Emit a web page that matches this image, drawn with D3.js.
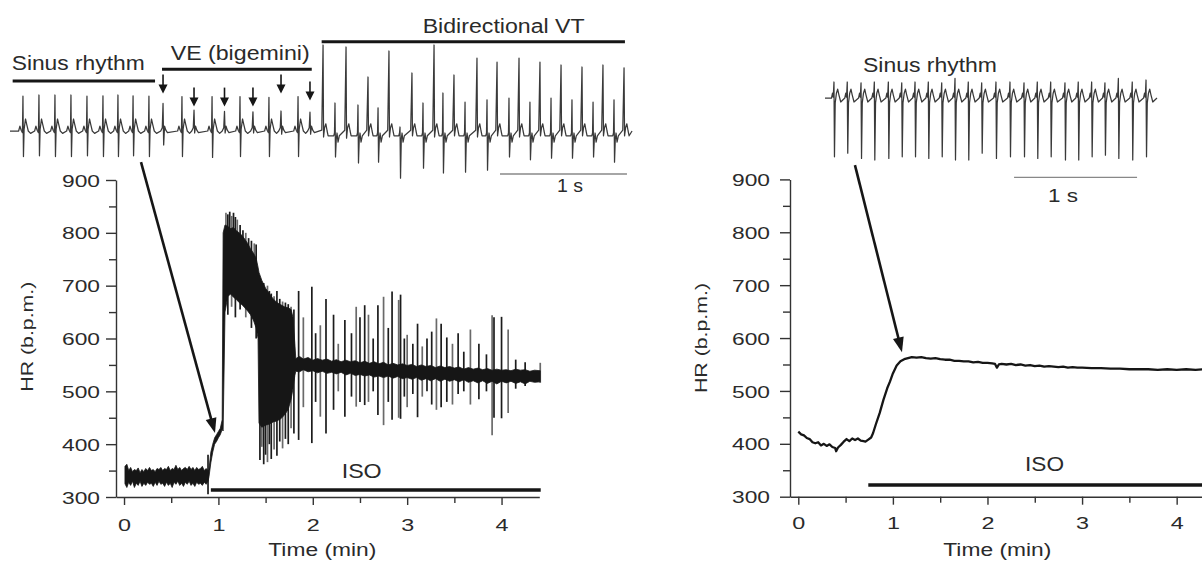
<!DOCTYPE html>
<html><head><meta charset="utf-8">
<script src="https://cdn.jsdelivr.net/npm/d3@7"></script>
<style>
html,body{margin:0;padding:0;background:#fff;}
svg{display:block;}
text{font-family:"Liberation Sans",Arial,Helvetica,sans-serif;fill:#2a2a2a;}
</style></head><body>
<svg id="c" width="1202" height="561"></svg>
<script>
// ---------------- DATA ----------------
const yTicksMajor = [300,400,500,600,700,800,900];
const yTicksMinor = [350,450,550,650,750,850];
const xTicksMajor = [0,1,2,3,4];
const xTicksMinor = [0.5,1.5,2.5,3.5];

// Left panel HR (b.p.m.) envelope of the dense trace: time (min), low, high
const hrT = [0.01,0.03,0.05,0.07,0.09,0.11,0.13,0.15,0.17,0.19,0.21,0.23,0.25,0.27,0.29,0.31,0.33,0.35,0.37,0.39,0.41,0.43,0.45,0.47,0.49,0.51,0.53,0.55,0.57,0.59,0.61,0.63,0.65,0.67,0.69,0.71,0.73,0.75,0.77,0.79,0.81,0.83,0.85,0.87,0.89,
  0.90,0.92,0.94,0.96,0.98,1.00,1.02,1.04,1.05,1.07,1.10,1.13,1.16,1.19,1.22,1.25,1.28,1.31,1.34,1.37,1.40,1.42,1.43,1.46,1.50,1.54,1.58,1.62,1.66,1.70,1.74,1.77,1.79,1.81,1.82,
  1.86,1.90,1.95,2.00,2.05,2.10,2.15,2.20,2.25,2.30,2.35,2.40,2.45,2.50,2.55,2.60,2.65,2.70,2.75,2.80,2.85,2.90,2.95,3.00,3.05,3.10,3.15,3.20,3.25,3.30,3.35,3.40,3.45,3.50,3.55,3.60,3.65,3.70,3.75,3.80,3.85,3.90,3.95,4.00,4.05,4.10,4.15,4.20,4.25,4.30,4.35,4.41];
const hrLo = [325,318,328,322,330,318,326,322,330,320,326,322,328,324,326,320,328,322,330,324,326,320,328,322,326,318,328,324,330,322,326,320,328,324,330,322,326,320,328,324,326,322,328,324,330,
  338,365,385,400,405,412,418,428,425,650,680,684,678,674,668,664,658,652,645,635,620,600,440,432,436,438,442,444,448,455,466,485,505,530,538,
  537,541,537,539,535,538,534,536,533,536,531,534,530,532,529,531,527,529,526,529,525,528,524,526,523,526,521,524,520,524,519,523,519,522,518,522,517,520,516,520,515,519,514,519,516,519,515,518,514,519,517,518];
const hrHi = [358,362,350,356,348,352,350,355,346,352,348,354,350,356,350,352,348,354,352,356,350,354,352,358,350,354,352,360,352,356,350,354,356,352,358,352,356,350,356,352,354,358,350,354,350,
  352,385,400,412,418,424,430,446,800,815,812,808,810,804,800,795,788,780,770,762,752,735,725,710,695,685,675,668,664,660,658,655,640,590,562,
  566,561,564,559,562,559,561,557,560,556,559,556,558,554,557,553,556,552,555,550,553,550,552,549,551,547,550,547,549,545,548,545,547,544,546,542,545,542,544,541,543,540,542,540,541,539,542,540,541,538,540,539];

// Left panel isolated excursions (time, low, high)
const spikeT  = [0.89,1.08,1.10,1.12,1.14,1.16,1.18,1.20,1.23,1.26,1.29,1.32,1.35,1.38,1.40,1.44,1.46,1.48,1.50,1.52,1.54,1.56,1.59,1.62,1.65,1.68,1.71,1.74,1.77,1.80,
  1.85,1.90,1.99,2.03,2.08,2.14,2.22,2.27,2.34,2.41,2.46,2.50,2.55,2.59,2.64,2.69,2.75,2.80,2.84,2.91,2.93,2.97,3.00,3.06,3.11,3.16,3.21,3.26,3.31,3.36,3.42,3.48,3.54,3.60,3.67,3.76,3.84,3.90,3.92,4.00,4.07,4.15,4.25,4.41];
const spikeLo = [305,700,645,690,660,700,640,690,655,690,640,680,620,650,600,370,395,362,380,366,400,372,390,378,405,392,410,400,430,420,
  408,470,402,480,452,420,465,500,452,490,471,480,474,480,500,455,436,480,446,450,448,490,470,495,451,490,500,475,465,470,480,475,495,500,475,485,500,417,450,449,459,505,510,516];
const spikeHi = [380,838,835,840,832,838,830,825,815,805,800,790,785,780,778,700,690,705,690,700,690,685,680,690,675,670,668,665,660,655,
  690,640,698,610,625,675,645,590,635,610,660,640,663,645,600,663,679,620,689,673,683,600,607,590,628,585,600,613,638,628,602,590,610,575,617,590,570,644,640,641,617,560,555,554];

// Right panel HR trace: time (min), b.p.m.
const rT = [0.00,0.03,0.06,0.09,0.12,0.15,0.18,0.21,0.24,0.27,0.30,0.33,0.36,0.39,0.40,0.42,0.45,0.48,0.51,0.54,0.57,0.60,0.63,0.66,0.69,0.71,0.74,0.77,0.79,0.82,0.86,0.90,0.94,0.97,1.00,1.04,1.08,1.12,1.16,1.20,1.25,1.30,1.35,1.40,1.45,1.50,1.55,1.60,1.65,1.70,1.75,1.80,1.85,1.90,1.95,2.00,2.05,2.08,2.10,2.12,2.15,2.20,2.25,2.30,2.35,2.40,2.45,2.50,2.55,2.60,2.65,2.70,2.75,2.80,2.85,2.90,2.95,3.00,3.10,3.20,3.30,3.40,3.50,3.60,3.70,3.80,3.90,4.00,4.10,4.20,4.30];
const rV = [423,418,416,411,409,403,401,403,397,400,396,399,394,392,386,393,398,404,409,405,410,407,410,406,405,404,408,412,420,437,458,483,505,518,533,548,556,560,562,564,563,564,562,561,562,560,559,559,557,557,556,556,554,555,553,553,552,551,544,550,551,550,551,549,550,548,549,547,548,546,547,546,545,546,544,545,544,544,543,543,542,542,541,541,541,540,541,540,541,540,541];

// ISO application (min)
const isoLeft = [0.92, 4.415];
const isoRight = [0.74, 4.6];

// Left ECG: beat times (s), type (N sinus, V ventricular ectopic, T/B bidirectional VT), R and S amplitudes
const ecgLTimes = [0.102,0.228,0.354,0.480,0.606,0.732,0.850,0.969,1.094,
  1.205,1.354,1.449,1.591,1.689,1.811,1.913,2.039,2.134,2.268,2.362,
  2.465,2.559,2.646,2.740,2.819,2.898,2.984,3.071,3.165,3.252,3.339,3.409,3.496,3.583,3.677,3.756,3.835,3.929,4.008,4.094,4.173,4.260,4.339,4.425,4.504,4.591,4.669,4.756,4.835];
const ecgLTypes = ("NNNNNNNNN" + "VNVNVNVNVNV" + "TBTBTBTBTBTBTBTBTBTBTBTBTBTBT").split("");
const ecgLR = [0.87,0.9,0.9,0.9,0.87,0.88,0.9,0.88,0.87,
  0.69,0.86,0.52,0.86,0.49,0.86,0.48,0.84,0.5,0.86,0.47,
  2.15,0.7,2.1,0.65,1.35,0.58,2.0,0.1,1.45,0.7,2.15,0.95,1.4,0.72,1.82,0.78,1.72,0.82,1.82,0.72,1.72,0.82,1.65,0.78,1.6,0.72,1.65,0.78,1.58];
const ecgLS = [-0.64,-0.62,-0.64,-0.64,-0.62,-0.64,-0.64,-0.62,-0.64,
  -0.35,-0.64,-0.05,-0.66,-0.05,-0.64,-0.05,-0.64,-0.08,-0.64,-0.08,
  -0.15,-0.65,-0.18,-0.8,-0.12,-0.78,-0.15,-1.18,-0.12,-0.93,-0.15,-1.05,-0.12,-1.03,-0.15,-0.98,-0.12,-0.65,-0.15,-0.72,-0.12,-0.68,-0.12,-0.68,-0.12,-0.65,-0.12,-0.78,-0.12];
const ecgLEnd = 4.898;
const veArrowTip = [0.94,0.61,0.61,0.61,0.94,0.76]; // ECG units
const rhythmSegments = [["Sinus rhythm",0.021,1.142],["VE (bigemini)",1.197,2.376],["Bidirectional VT",2.454,4.842]];

// Right ECG
const ecgRTimes = [0.073,0.181,0.293,0.401,0.515,0.624,0.732,0.840,0.949,1.057,1.165,1.274,1.390,1.504,1.618,1.726,1.835,1.951,2.059,2.168,2.276,2.385,2.498,2.610];
const ecgRR = [0.4,0.4,0.38,0.4,0.4,0.38,0.4,0.4,0.38,0.49,0.4,0.38,0.4,0.4,0.38,0.4,0.4,0.38,0.4,0.4,0.38,0.49,0.4,0.45];
const ecgRS = [-1.47,-1.38,-1.51,-1.55,-1.51,-1.47,-1.47,-1.51,-1.47,-1.55,-1.55,-1.38,-1.51,-1.47,-1.47,-1.51,-1.47,-1.55,-1.55,-1.47,-1.43,-1.51,-1.55,-1.47];
const ecgREnd = 2.699;

// Arrows from ECG to HR trace: [t0, v0, t1, v1]
const arrowLeft = [0.18, 934, 0.964, 421];
const arrowRight = [0.599, 927, 1.096, 573];

// ---------------- DRAWING ----------------
const svg = d3.select("#c");
svg.append("rect").attr("width",1202).attr("height",561).attr("fill","#fff");
const INK = "#161616", AX = "#333";

const xL = d3.scaleLinear().domain([-0.085, 4.4]).range([116, 539.3]);
const yL = d3.scaleLinear().domain([300, 900]).range([497, 180]);
const xR = d3.scaleLinear().domain([-0.0877, 4.4]).range([790, 1214.5]);
const yR = d3.scaleLinear().domain([300, 900]).range([496.7, 179.4]);
const eLX = d3.scaleLinear().domain([0,1]).range([10, 137]);
const eLY = d3.scaleLinear().domain([0,1]).range([131, 91]);
const eRX = d3.scaleLinear().domain([0,1]).range([825, 948]);
const eRY = d3.scaleLinear().domain([0,1]).range([98, 58]);

function txt(g, s, x, y, size, len, opts={}) {
  const t = g.append("text").attr("x", x).attr("y", y).attr("font-size", size).text(s);
  if (len) t.attr("textLength", len).attr("lengthAdjust", "spacingAndGlyphs");
  if (opts.anchor) t.attr("text-anchor", opts.anchor);
  if (opts.rotate) t.attr("transform", `rotate(-90 ${x} ${y})`);
  return t;
}

function drawAxes(x, y, o) {
  const g = svg.append("g");
  const x0 = x.range()[0], y0 = y(300);
  const ya = g.append("g").attr("transform", `translate(${x0},0)`)
    .call(d3.axisLeft(y).tickValues(yTicksMajor).tickSize(10).tickSizeOuter(0).tickPadding(o.yPad).tickFormat(d3.format("d")));
  ya.attr("font-size", null).attr("font-family", null);
  ya.selectAll("text").attr("font-size", 17).attr("dy", "0.36em")
    .attr("textLength", 38).attr("lengthAdjust", "spacingAndGlyphs").attr("fill", "#2a2a2a");
  const ym = g.append("g").attr("transform", `translate(${x0},0)`)
    .call(d3.axisLeft(y).tickValues(yTicksMinor).tickSize(7).tickFormat(""));
  ym.select(".domain").remove();
  const xa = g.append("g").attr("transform", `translate(0,${y0})`)
    .call(d3.axisBottom(x).tickValues(xTicksMajor).tickSize(8).tickSizeOuter(0).tickFormat(d3.format("d")));
  xa.attr("font-size", null).attr("font-family", null);
  xa.selectAll("text").attr("font-size", 17).attr("y", o.xLabY).attr("dy", "0.71em")
    .attr("textLength", 13).attr("lengthAdjust", "spacingAndGlyphs").attr("fill", "#2a2a2a");
  const xm = g.append("g").attr("transform", `translate(0,${y0})`)
    .call(d3.axisBottom(x).tickValues(xTicksMinor).tickSize(6).tickFormat(""));
  xm.select(".domain").remove();
  g.selectAll(".domain, .tick line").attr("stroke", AX).attr("stroke-width", 1.4);
  return g;
}

function arrow(g, x1, y1, x2, y2, hl, hw, sw) {
  const a = Math.atan2(y2 - y1, x2 - x1), c = Math.cos(a), s = Math.sin(a);
  const bx = x2 - hl * c, by = y2 - hl * s;
  g.append("line").attr("x1", x1).attr("y1", y1).attr("x2", bx + c).attr("y2", by + s)
    .attr("stroke", INK).attr("stroke-width", sw);
  g.append("path").attr("d", `M${x2},${y2}L${bx - s*hw/2},${by + c*hw/2}L${bx + s*hw/2},${by - c*hw/2}Z`).attr("fill", INK);
}

const morph = {
  N: (r, s) => [[-0.034,0],[-0.024,0.12],[-0.014,0.02],[-0.004,-0.04],[0,r],[0.004,s],[0.009,0.04],[0.02,0.3],[0.03,0.16],[0.042,0.0],[0.06,-0.06]],
  V: (r, s) => [[-0.018,0],[-0.006,0.08],[0,r],[0.005,s],[0.012,0.12],[0.022,0.02],[0.035,-0.04]],
  T: (r, s) => [[-0.01,0.02],[0,r],[0.004,s],[0.012,0.08],[0.022,0.18],[0.032,0.0],[0.04,-0.12]],
  B: (r, s) => [[-0.01,-0.12],[-0.004,-0.05],[0,r],[0.004,s],[0.01,-0.2],[0.016,-0.05],[0.024,-0.28],[0.034,-0.12]],
  R: (r, s) => [[-0.02,0],[-0.012,0.12],[-0.006,0.02],[0,r],[0.004,s],[0.01,-0.12],[0.02,0.12],[0.03,0.22],[0.04,0.08],[0.055,-0.1]]
};
function ecgPoints(times, types, rs, ss, tEnd) {
  const pts = [[0, 0]];
  times.forEach((t, i) => morph[types[i]](rs[i], ss[i]).forEach(([dt, v]) => pts.push([t + dt, v])));
  pts.push([tEnd, 0]);
  return pts;
}

// ======== LEFT PANEL ========
drawAxes(xL, yL, {yPad: 6, xLabY: 22});
const gL = svg.append("g");
gL.append("line").attr("x1", xL(isoLeft[0])).attr("x2", xL(isoLeft[1]))
  .attr("y1", 490).attr("y2", 490).attr("stroke", INK).attr("stroke-width", 3.5);
// excursions (under the dense envelope)
gL.selectAll("line.sp").data(spikeT.map((t, i) => ({t, lo: spikeLo[i], hi: spikeHi[i], i})))
  .join("line").attr("class", "sp")
  .attr("x1", d => xL(d.t)).attr("x2", d => xL(d.t))
  .attr("y1", d => yL(d.lo)).attr("y2", d => yL(d.hi))
  .attr("stroke", d => d.i % 3 === 1 ? "#6a6a6a" : "#1c1c1c").attr("stroke-width", 1.7);
const hrData = hrT.map((t, i) => ({t, lo: hrLo[i], hi: hrHi[i]}));
gL.append("path").datum(hrData)
  .attr("d", d3.area().x(d => xL(d.t)).y0(d => yL(d.lo)).y1(d => yL(d.hi)))
  .attr("fill", INK).attr("stroke", INK).attr("stroke-width", 0.8);
const ecgL = ecgPoints(ecgLTimes, ecgLTypes, ecgLR, ecgLS, ecgLEnd);
gL.append("path").datum(ecgL)
  .attr("d", d3.line().x(d => eLX(d[0])).y(d => eLY(d[1])))
  .attr("fill", "none").attr("stroke", "#3a3a3a").attr("stroke-width", 1.25).attr("stroke-linejoin", "round");
const barY = [81, 69.3, 41.7];
rhythmSegments.forEach((s, i) => {
  gL.append("line").attr("x1", eLX(s[1])).attr("x2", eLX(s[2])).attr("y1", barY[i]).attr("y2", barY[i])
    .attr("stroke", INK).attr("stroke-width", 3);
});
txt(gL, "Sinus rhythm", 11.7, 70, 20, 133);
txt(gL, "VE (bigemini)", 170.7, 59.5, 20, 139);
txt(gL, "Bidirectional VT", 422.7, 32.7, 20, 162);
const veTimes = ecgLTimes.filter((t, i) => ecgLTypes[i] === "V");
veTimes.forEach((t, i) => {
  const tip = eLY(veArrowTip[i]);
  arrow(gL, eLX(t), tip - 19, eLX(t), tip, 9, 9, 1.6);
});
gL.append("line").attr("x1", eLX(3.858)).attr("x2", eLX(4.858)).attr("y1", 174).attr("y2", 174)
  .attr("stroke", "#888").attr("stroke-width", 1.3);
txt(gL, "1 s", 557, 191.7, 18, 26);
txt(gL, "ISO", 341.7, 478, 20, 40);
txt(gL, "Time (min)", 268.3, 556, 17.5, 108);
txt(gL, "HR (b.p.m.)", 33.5, 336.7, 17, 110, {anchor: "middle", rotate: true});
arrow(gL, xL(arrowLeft[0]), yL(arrowLeft[1]), xL(arrowLeft[2]), yL(arrowLeft[3]), 15, 11, 2.6);

// ======== RIGHT PANEL ========
drawAxes(xR, yR, {yPad: 10, xLabY: 20.5});
const gR = svg.append("g");
gR.append("line").attr("x1", xR(isoRight[0])).attr("x2", xR(isoRight[1]))
  .attr("y1", 485).attr("y2", 485).attr("stroke", INK).attr("stroke-width", 3.5);
gR.append("path").datum(rT.map((t, i) => [t, rV[i]]))
  .attr("d", d3.line().x(d => xR(d[0])).y(d => yR(d[1])))
  .attr("fill", "none").attr("stroke", INK).attr("stroke-width", 2.3).attr("stroke-linejoin", "round");
const ecgRp = ecgPoints(ecgRTimes, ecgRTimes.map(() => "R"), ecgRR, ecgRS, ecgREnd);
gR.append("path").datum(ecgRp)
  .attr("d", d3.line().x(d => eRX(d[0])).y(d => eRY(d[1])))
  .attr("fill", "none").attr("stroke", "#3a3a3a").attr("stroke-width", 1.25).attr("stroke-linejoin", "round");
txt(gR, "Sinus rhythm", 863, 72.3, 20.5, 134);
gR.append("line").attr("x1", eRX(1.537)).attr("x2", eRX(2.537)).attr("y1", 177.3).attr("y2", 177.3)
  .attr("stroke", "#888").attr("stroke-width", 1.3);
txt(gR, "1 s", 1048, 201.7, 18, 30);
txt(gR, "ISO", 1025, 470.7, 20, 39);
txt(gR, "Time (min)", 943.3, 556, 17.5, 108);
txt(gR, "HR (b.p.m.)", 707, 338, 17, 110, {anchor: "middle", rotate: true});
arrow(gR, xR(arrowRight[0]), yR(arrowRight[1]), xR(arrowRight[2]), yR(arrowRight[3]), 15, 11, 2.6);
</script></body></html>
